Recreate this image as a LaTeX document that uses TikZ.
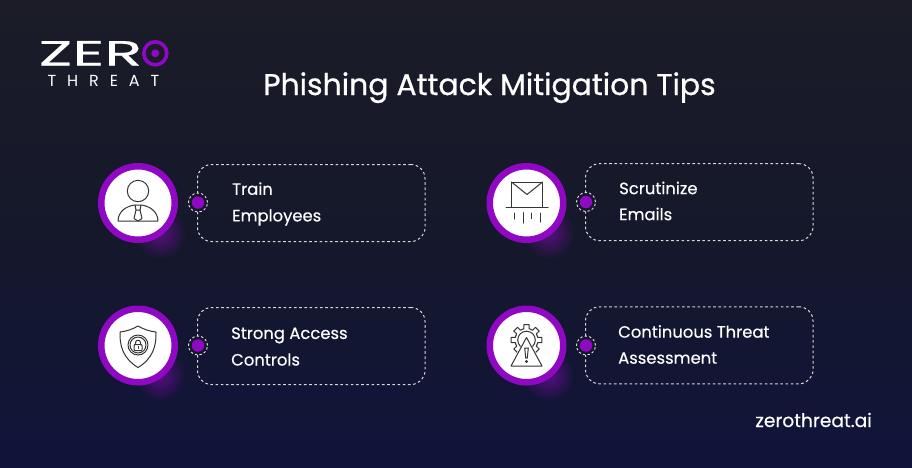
\documentclass[tikz,border=0pt]{standalone}
\usepackage{fontspec}
\usetikzlibrary{fadings}
\setmainfont{Poppins}[FakeBold=0.35]
\newfontfamily\titlefont[FakeBold=0.7]{Poppins}
\newfontfamily\logofont[FakeStretch=1.78,FakeBold=0.6]{Poppins}
\newfontfamily\lightfont{Poppins}
\definecolor{bgtop}{HTML}{1B1C27}
\definecolor{bgmid}{HTML}{15182B}
\definecolor{bgbot}{HTML}{10143A}
\definecolor{vio}{HTML}{9008C4}
\definecolor{icn}{HTML}{353535}
\tikzfading[name=softglow,inner color=transparent!45,outer color=transparent!100]
\tikzset{
  disc/.style={circle,draw=vio,line width=6.5pt,fill=white,minimum size=73.5pt,inner sep=0pt},
  tipbox/.style={draw=white!85!black,dashed,dash pattern=on 2.6pt off 2.6pt,line width=1pt,rounded corners=14pt,minimum width=227.5pt,minimum height=77pt,inner sep=0pt},
  ringdot/.style={circle,draw=white!90!black,dash pattern=on 2.4pt off 2.2pt,line width=.9pt,fill=bgmid,minimum size=19pt,inner sep=0pt},
  core/.style={circle,fill=vio,minimum size=12.5pt,inner sep=0pt},
  tiptext/.style={text=white,anchor=west,align=left,font=\fontsize{16.4}{26}\selectfont,inner sep=0pt},
  icon/.style={draw=icn,line width=1pt,line join=round,line cap=round},
}
\begin{document}
\begin{tikzpicture}[x=1pt,y=-1pt]
\useasboundingbox (0,0) rectangle (912,467);
\shade[top color=bgtop,bottom color=bgbot,middle color=bgmid] (0,0) rectangle (912,467);
% logo
\node[text=white,anchor=base west,inner sep=0pt,font=\logofont\fontsize{35}{35}\selectfont] (zer) at (38.5,65.5) {ZER};
\node[circle,draw=vio,line width=3.6pt,minimum size=23pt,inner sep=0pt] (logoring) at (155.3,53.3) {};
\node[circle,fill=vio,minimum size=8pt,inner sep=0pt] (logodot) at (logoring.center) {};
\node[text=white,anchor=base west,inner sep=0pt,font=\lightfont\fontsize{16}{16}\selectfont] (threat) at (47.5,86.7) {\addfontfeature{LetterSpace=68}THREAT};
% title
\node[text=white,inner sep=0pt,anchor=base,font=\titlefont\fontsize{29.9}{30}\selectfont] (title) at (489.5,95) {Phishing Attack Mitigation Tips};
% glows
\foreach \cx/\cy in {138/203,526.5/203,138/345.5,526.5/345.5}{
  \fill[vio,path fading=softglow] (\cx+22,\cy+30) circle (26);
}
% discs
\node[disc] (d1) at (138,203) {};
\node[disc] (d2) at (526.5,203) {};
\node[disc] (d3) at (138,345.5) {};
\node[disc] (d4) at (526.5,345.5) {};
% boxes
\node[tipbox,anchor=north west] (b1) at (197,164) {};
\node[tipbox,anchor=north west] (b2) at (585,163.2) {};
\node[tipbox,anchor=north west] (b3) at (197,307) {};
\node[tipbox,anchor=north west] (b4) at (585,306.3) {};
% dots
\node[ringdot] (r1) at (198,202.5) {}; \node[core] (c1) at (r1.center) {};
\node[ringdot] (r2) at (586,202) {};   \node[core] (c2) at (r2.center) {};
\node[ringdot] (r3) at (198,345.5) {}; \node[core] (c3) at (r3.center) {};
\node[ringdot] (r4) at (586,345.5) {}; \node[core] (c4) at (r4.center) {};
% texts
\node[tiptext] (t1) at (232,204) {Train\\[.6pt]Employees};
\node[tiptext] (t2) at (619,201) {Scrutinize\\Emails};
\node[tiptext] (t3) at (231,346.5) {Strong Access\\[.6pt]Controls};
\node[tiptext] (t4) at (618,344.5) {Continuous Threat\\Assessment};
\node[text=white,anchor=base east,inner sep=0pt,font=\fontsize{18.6}{19}\selectfont] (web) at (872,427) {zerothreat.ai};
% person
\begin{scope}[shift={(d1.center)}]
  \draw[icon] (0,-12) circle (10.7);
  \draw[icon] (-20,18) .. controls (-19.5,8) and (-12,3.5) .. (-3.5,2) -- (3.5,2) .. controls (12,3.5) and (19.5,8) .. (20,18) -- cycle;
  \draw[icon] (-3,2) -- (-2,7) -- (2,7) -- (3,2);
  \draw[icon] (-2,7) -- (-4,15.5) -- (0,18) -- (4,15.5) -- (2,7);
\end{scope}
% envelope
\begin{scope}[shift={(d2.center)}]
  \draw[icon] (-15,4.5) -- (-15,-21) -- (16,-21) -- (16,4.5);
  \draw[icon] (-15,-21) -- (.5,-8.5) -- (16,-21);
  \draw[icon] (-20.5,4.3) -- (21.5,4.3);
  \draw[icon] (-12.5,10) -- (-12.5,16);
  \draw[icon] (-3.5,9.5) -- (-3.5,20);
  \draw[icon] (4.8,10) -- (4.8,15.5);
  \draw[icon] (13.5,10) -- (13.5,19);
\end{scope}
% shield
\begin{scope}[shift={(d3.center)}]
  \draw[icon] (0,-19.5) .. controls (5,-16.5) and (12,-14) .. (18,-13.5) .. controls (18.5,0) and (15,13) .. (0,22) .. controls (-15,13) and (-18.5,0) .. (-18,-13.5) .. controls (-12,-14) and (-5,-16.5) .. (0,-19.5) -- cycle;
  \draw[icon] (0,-.5) circle (10);
  \draw[icon] (0,-.5) circle (8);
  \draw[icon,rounded corners=.8pt] (-4,-1) rectangle (4,5);
  \draw[icon] (-2.5,-1) -- (-2.5,-3) .. controls (-2.5,-6) and (2.5,-6) .. (2.5,-3) -- (2.5,-1);
  \draw[icon] (0,1.2) -- (0,2.8);
\end{scope}
% gear with warning
\begin{scope}[shift={(d4.center)}]
  \begin{scope}[shift={(0,-5.5)}]
    \foreach \a in {0,45,...,315}{
      \draw[icon] (\a-22.5:11.5) -- (\a-13:11.5) -- (\a-10:15.5) -- (\a+10:15.5) -- (\a+13:11.5) -- (\a+22.5:11.5);
    }
    \draw[icon] (0,0) circle (8.8);
  \end{scope}
  \fill[white] (0,-9) -- (-17.5,21) -- (17.5,21) -- cycle;
  \draw[icon] (0,-8) -- (15.5,20.5) -- (-15.5,20.5) -- cycle;
  \draw[icon] (-1.8,2.5) -- (1.8,2.5) -- (.8,12.5) -- (-.8,12.5) -- cycle;
  \draw[icon] (0,16) circle (1);
\end{scope}
\end{tikzpicture}
\end{document}
